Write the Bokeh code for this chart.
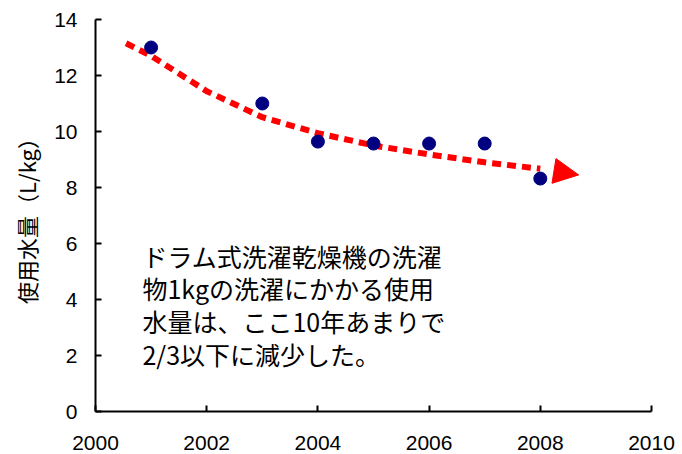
from bokeh.plotting import figure
from bokeh.models import Range1d, FixedTicker, Arrow, NormalHead, Label
from bokeh.embed import file_html
from bokeh.resources import INLINE

# ---- data ----
years = [2001, 2003, 2004, 2005, 2006, 2007, 2008]
water = [13.0, 11.0, 9.64, 9.57, 9.57, 9.57, 8.32]

trend_x = [2000.55, 2001, 2002, 2003, 2004, 2005, 2006, 2007, 2008, 2008.69]
trend_y = [13.15, 12.7, 11.44, 10.51, 9.94, 9.5, 9.18, 8.9, 8.67, 8.45]

x_ticks = [2000, 2002, 2004, 2006, 2008, 2010]
y_ticks = [0, 2, 4, 6, 8, 10, 12, 14]

note_lines = ["ドラム式洗濯乾燥機の洗濯",
              "物1kgの洗濯にかかる使用",
              "水量は、ここ10年あまりで",
              "2/3以下に減少した。"]
y_label = "使用水量（L/kg）"

# ---- figure ----
p = figure(width=682, height=454, output_backend="svg", toolbar_location=None,
           x_range=Range1d(2000, 2010), y_range=Range1d(0, 14),
           min_border_left=95, min_border_right=31, min_border_top=19,
           min_border_bottom=43)
p.outline_line_color = None
p.xgrid.visible = False
p.ygrid.visible = False
p.background_fill_color = "white"
p.border_fill_color = "white"

for ax in (p.xaxis[0], p.yaxis[0]):
    ax.axis_line_color = "black"
    ax.axis_line_width = 2
    ax.major_tick_line_color = "black"
    ax.major_tick_line_width = 2
    ax.major_tick_in = 6
    ax.major_tick_out = 0
    ax.minor_tick_line_color = None
    ax.major_label_text_font = "Liberation Sans"
    ax.major_label_text_font_size = "21px"
    ax.major_label_text_color = "black"

p.xaxis.ticker = FixedTicker(ticks=x_ticks)
p.yaxis.ticker = FixedTicker(ticks=y_ticks)
p.xaxis.major_label_standoff = 24
p.yaxis.major_label_standoff = 18

p.yaxis.axis_label = y_label
p.yaxis.axis_label_text_font = "Noto Sans CJK JP"
p.yaxis.axis_label_text_font_size = "22px"
p.yaxis.axis_label_text_font_style = "normal"
p.yaxis.axis_label_text_color = "black"
p.yaxis.axis_label_standoff = 9

# trend line (dotted) up to arrow base
p.line(trend_x[:-1], trend_y[:-1], line_color="#FF0000", line_width=6,
       line_dash="9 6")
p.add_layout(Arrow(end=NormalHead(size=25, fill_color="#FF0000",
                                  line_color="#FF0000", line_width=1),
                   x_start=trend_x[-2], y_start=trend_y[-2],
                   x_end=trend_x[-1], y_end=trend_y[-1],
                   line_alpha=0, line_width=0))

# data points
p.scatter(years, water, size=13, fill_color="#000080", line_color="#000080")

# annotation text
x0 = 2000.845
y_first = 5.57
step = 1.17
for i, t in enumerate(note_lines):
    p.add_layout(Label(x=x0, y=y_first - i * step, text=t,
                       text_font="Noto Sans CJK JP", text_font_size="25px",
                       text_color="black", text_baseline="middle",
                       text_align="left"))

open("out.html", "w").write(file_html(p, INLINE))
